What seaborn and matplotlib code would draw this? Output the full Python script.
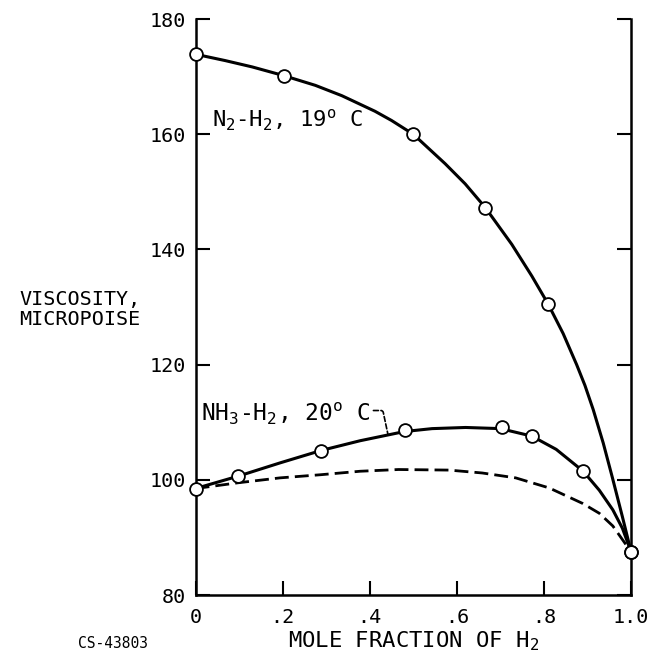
import matplotlib
matplotlib.use("Agg")
import matplotlib.pyplot as plt
import seaborn as sns
import pandas as pd

# Measured viscosities (open circles)
n2_x = [0.0, 0.202, 0.50, 0.665, 0.809, 1.0]
n2_y = [173.9, 170.2, 160.0, 147.2, 130.6, 87.5]

nh3_x = [0.0, 0.098, 0.288, 0.48, 0.703, 0.772, 0.89, 1.0]
nh3_y = [98.5, 100.65, 105.1, 108.6, 109.2, 107.7, 101.5, 87.5]

# Faired curves through the data
n2_curve_x = [0.0, 0.068, 0.13, 0.202, 0.275, 0.336, 0.412, 0.45, 0.50, 0.573,
              0.619, 0.665, 0.726, 0.772, 0.809, 0.844, 0.875, 0.894, 0.913,
              0.936, 0.957, 0.98, 1.0]
n2_curve_y = [173.9, 172.8, 171.7, 170.2, 168.5, 166.7, 164.0, 162.4, 160.0, 154.9,
              151.4, 147.3, 140.9, 135.4, 130.6, 125.4, 120.0, 116.4, 112.2,
              106.4, 100.4, 93.6, 87.5]

nh3_curve_x = [0.0, 0.098, 0.194, 0.288, 0.378, 0.48, 0.543, 0.62, 0.70, 0.772,
               0.828, 0.89, 0.927, 0.958, 0.98, 1.0]
nh3_curve_y = [98.5, 100.65, 102.95, 105.1, 106.8, 108.4, 108.9, 109.1, 108.9, 107.6,
               105.3, 101.5, 98.2, 94.8, 91.6, 87.5]

# Dashed curve for the NH3-H2 system
nh3_dash_x = [0.0, 0.098, 0.194, 0.288, 0.378, 0.466, 0.582, 0.658, 0.735, 0.812,
              0.889, 0.927, 0.958, 1.0]
nh3_dash_y = [98.5, 99.5, 100.35, 100.9, 101.5, 101.8, 101.7, 101.2, 100.35, 98.6,
              95.9, 94.2, 92.0, 87.5]

x_ticks = [0.0, 0.2, 0.4, 0.6, 0.8, 1.0]
x_tick_labels = ["0", ".2", ".4", ".6", ".8", "1.0"]
y_ticks = [80, 100, 120, 140, 160, 180]

sns.set_style("white")
FONT = "DejaVu Sans Mono"
plt.rcParams["font.family"] = [FONT, "DejaVu Sans"]
plt.rcParams["text.color"] = "black"
plt.rcParams["axes.labelcolor"] = "black"
plt.rcParams["mathtext.fontset"] = "custom"
plt.rcParams["mathtext.rm"] = FONT
plt.rcParams["mathtext.it"] = FONT
plt.rcParams["mathtext.bf"] = FONT + ":bold"

fig = plt.figure(figsize=(6.54, 6.59), dpi=100)
ax = fig.add_axes([0.299, 0.097, 0.666, 0.874])

n2_curve = pd.DataFrame({"x": n2_curve_x, "y": n2_curve_y})
nh3_curve = pd.DataFrame({"x": nh3_curve_x, "y": nh3_curve_y})
nh3_dash = pd.DataFrame({"x": nh3_dash_x, "y": nh3_dash_y})

sns.lineplot(data=n2_curve, x="x", y="y", ax=ax, color="black", lw=2.2,
             sort=False, estimator=None, clip_on=False)
sns.lineplot(data=nh3_curve, x="x", y="y", ax=ax, color="black", lw=2.2,
             sort=False, estimator=None, clip_on=False)
sns.lineplot(data=nh3_dash, x="x", y="y", ax=ax, color="black", lw=2.0,
             sort=False, estimator=None, clip_on=False)
ax.lines[-1].set_dashes([5, 2.2])
for ln in ax.lines:
    ln.set_solid_joinstyle("round")
    ln.set_dash_joinstyle("round")

pts = pd.DataFrame({"x": n2_x + nh3_x, "y": n2_y + nh3_y})
sns.scatterplot(data=pts, x="x", y="y", ax=ax, marker="o", s=85,
                facecolor="white", edgecolor="black", linewidth=1.3,
                zorder=5, clip_on=False)

ax.set_xlim(0, 1.0)
ax.set_ylim(80, 180)
ax.set_xticks(x_ticks)
ax.set_xticklabels(x_tick_labels)
ax.set_yticks(y_ticks)
ax.set_yticklabels([str(v) for v in y_ticks])

for side in ["left", "right", "bottom"]:
    ax.spines[side].set_visible(True)
    ax.spines[side].set_linewidth(1.8)
    ax.spines[side].set_color("black")
ax.spines["top"].set_visible(False)

ax.tick_params(axis="both", direction="in", length=10, width=1.5,
               colors="black", labelcolor="black", labelsize=14.5, pad=7)
ax.tick_params(axis="y", left=True, right=True, labelleft=True, labelright=False)
ax.tick_params(axis="x", bottom=True, top=False, pad=9)

ax.set_xlabel("MOLE FRACTION OF H$_2$", fontsize=16, labelpad=2)
ax.set_ylabel("")
fig.text(0.122, 0.530, "VISCOSITY,\nMICROPOISE", ha="center", va="center",
         fontsize=14.5, linespacing=1.1)
fig.text(0.119, 0.024, "CS-43803", ha="left", va="center", fontsize=10.5)

ax.text(0.037, 162.4, "N$_2$-H$_2$, 19$^{\\rm o}$ C", fontsize=16,
        ha="left", va="center")
nh3_label = ax.text(0.013, 111.5, "NH$_3$-H$_2$, 20$^{\\rm o}$ C", fontsize=16.5,
                    ha="left", va="center")
ax.annotate("", xy=(0.442, 107.8), xytext=(1.0, 0.62), textcoords=nh3_label,
            arrowprops=dict(arrowstyle="-", lw=1.2, color="black",
                            linestyle=(0, (3, 1.5)),
                            connectionstyle="angle,angleA=0,angleB=102,rad=2",
                            shrinkA=2, shrinkB=0))

fig.savefig("out.png", dpi=100, facecolor="white")
